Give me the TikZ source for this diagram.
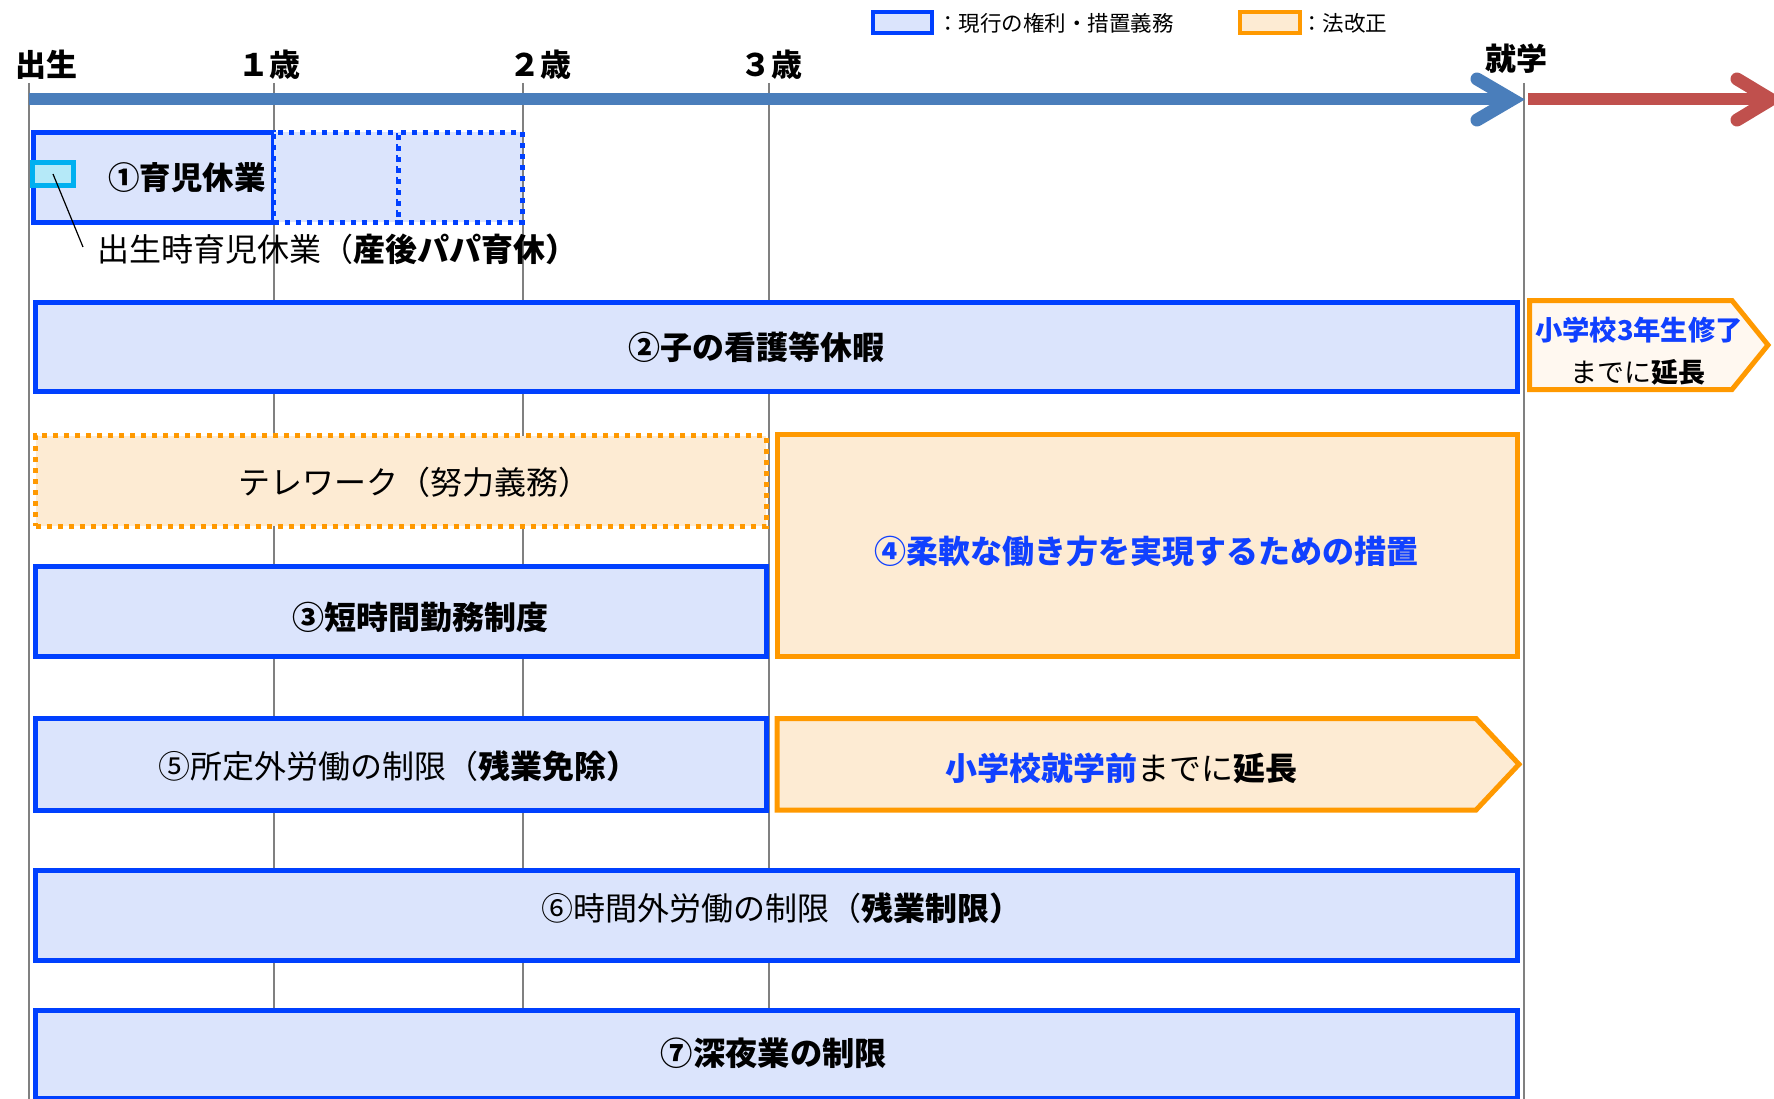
\documentclass[tikz,border=0pt]{standalone}
\usepackage{fontspec}
\setmainfont{Noto Sans CJK JP}
\definecolor{bordblue}{RGB}{0,64,255}
\definecolor{fillblue}{RGB}{219,228,252}
\definecolor{bordorange}{RGB}{255,153,0}
\definecolor{fillpeach}{RGB}{253,235,211}
\definecolor{fillpale}{RGB}{255,248,240}
\definecolor{txtblue}{RGB}{16,64,255}
\definecolor{axblue}{RGB}{74,126,187}
\definecolor{axred}{RGB}{192,80,77}
\definecolor{gridc}{RGB}{128,128,128}
\definecolor{cyanb}{RGB}{0,176,240}
\definecolor{cyanf}{RGB}{181,233,248}
\newcommand{\fs}[1]{\fontsize{#1}{#1}\selectfont}
\begin{document}
\begin{tikzpicture}[x=1pt,y=-1pt,
  rbox/.style={rectangle, inner sep=0pt, outer sep=0pt, anchor=north west, line width=5pt},
  curbox/.style={rbox, draw=bordblue, fill=fillblue},
  curdot/.style={rbox, draw=bordblue, fill=fillblue, dash pattern=on 5pt off 6pt},
  newbox/.style={rbox, draw=bordorange, fill=fillpeach},
  newdot/.style={rbox, draw=bordorange, fill=fillpeach, dash pattern=on 5pt off 6pt},
  lbl/.style={inner sep=0pt, outer sep=0pt, font=\fs{32}},
  toplbl/.style={inner sep=0pt, font=\fs{31}\bfseries},
  leglbl/.style={inner sep=0pt, anchor=west, font=\fs{21.5}},
  gridline/.style={draw=gridc, line width=1.8pt},
  axisbar/.style={line width=12pt},
  axishead/.style={line width=13pt, line cap=round, miter limit=10}
]
\useasboundingbox (0,0) rectangle (1774,1099);
\fill[white] (0,0) rectangle (1774,1099);

% grid lines
\foreach \x in {29,274,523,769,1524}
  \draw[gridline] (\x,83) -- (\x,1099);

% legend
\node[rbox, line width=4pt, draw=bordblue, fill=fillblue, minimum width=59pt, minimum height=21pt] (legA) at (873,12) {};
\node[leglbl] (legAt) at (937,23.5) {：現行の権利・措置義務};
\node[rbox, line width=4pt, draw=bordorange, fill=fillpeach, minimum width=60pt, minimum height=21pt] (legB) at (1240,12) {};
\node[leglbl] (legBt) at (1301,23.5) {：法改正};

% top labels
\node[toplbl] (t0) at (46,64.5) {出生};
\node[toplbl] (t1) at (269,64.5) {１歳};
\node[toplbl] (t2) at (540,64.5) {２歳};
\node[toplbl] (t3) at (771,64.5) {３歳};
\node[toplbl] (t4) at (1516.5,58.5) {就学};

% time axis
\draw[axblue, axisbar] (29,99.5) -- (1505,99.5);
\draw[axblue, axishead] (1477,79) -- (1512,99.5) -- (1477,120);
\draw[axred, axisbar] (1528,99) -- (1760,99);
\draw[axred, axishead] (1737,79) -- (1771,99.5) -- (1737,120);

% (1) childcare leave
\node[curbox, minimum width=240pt, minimum height=90pt] (b1) at (33.5,132.5) {};
\node[curdot, minimum width=124.5pt, minimum height=90pt] (b1a) at (273.5,132.5) {};
\node[curdot, minimum width=124pt, minimum height=90pt] (b1b) at (398,132.5) {};
\node[rbox, draw=cyanb, fill=cyanf, minimum width=41pt, minimum height=23pt] (b1s) at (32.5,162.5) {};
\node[lbl, font=\fs{31.5}\bfseries] (l1) at (187,177.5) {①育児休業};
\coordinate (lead) at (83,247);
\draw[line width=1.2pt] (b1s.center) -- (lead);
\node[lbl, anchor=west] (l1s) at (97,249) {出生時育児休業（{\bfseries 産後パパ育休）}};

% (2)
\node[curbox, minimum width=1481.5pt, minimum height=89.5pt] (b2) at (35.5,302) {};
\node[lbl, font=\fs{32}\bfseries] (l2) at (756,347) {②子の看護等休暇};
\draw[line width=5pt, draw=bordorange, fill=fillpale] (1529.5,300.5) -- (1732,300.5) -- (1768,345) -- (1732,389.5) -- (1529.5,389.5) -- cycle;
\node[lbl, font=\fs{27.3}\bfseries, text=txtblue] (l2a) at (1639,330) {小学校3年生修了};
\node[lbl, font=\fs{27}] (l2b) at (1638,372) {までに{\bfseries 延長}};

% telework and (4)
\node[newdot, minimum width=730.5pt, minimum height=90.5pt] (tw) at (35.5,435.5) {};
\node[lbl] (ltw) at (414,482) {テレワーク（努力義務）};
\node[newbox, minimum width=740pt, minimum height=221.5pt] (b4) at (777,434.5) {};
\node[lbl, font=\fs{32}\bfseries, text=txtblue] (l4) at (1146,551) {④柔軟な働き方を実現するための措置};

% (3)
\node[curbox, minimum width=730.5pt, minimum height=90pt] (b3) at (35.5,566) {};
\node[lbl, font=\fs{32}\bfseries] (l3) at (420,617) {③短時間勤務制度};

% (5)
\node[curbox, minimum width=730.5pt, minimum height=91.5pt] (b5) at (35.5,718.5) {};
\node[lbl] (l5) at (398,766) {⑤所定外労働の制限（{\bfseries 残業免除）}};
\draw[line width=5pt, draw=bordorange, fill=fillpeach] (777,718.5) -- (1476,718.5) -- (1519,764.25) -- (1476,810) -- (777,810) -- cycle;
\node[lbl] (l5a) at (1121,768) {{\bfseries\color{txtblue}小学校就学前}までに{\bfseries 延長}};

% (6)
\node[curbox, minimum width=1481.5pt, minimum height=90.5pt] (b6) at (35.5,870) {};
\node[lbl] (l6) at (781,908.5) {⑥時間外労働の制限（{\bfseries 残業制限）}};

% (7)
\node[curbox, minimum width=1481.5pt, minimum height=88pt] (b7) at (35.5,1010) {};
\node[lbl, font=\fs{32.3}\bfseries] (l7) at (774,1053) {⑦深夜業の制限};
\end{tikzpicture}
\end{document}
